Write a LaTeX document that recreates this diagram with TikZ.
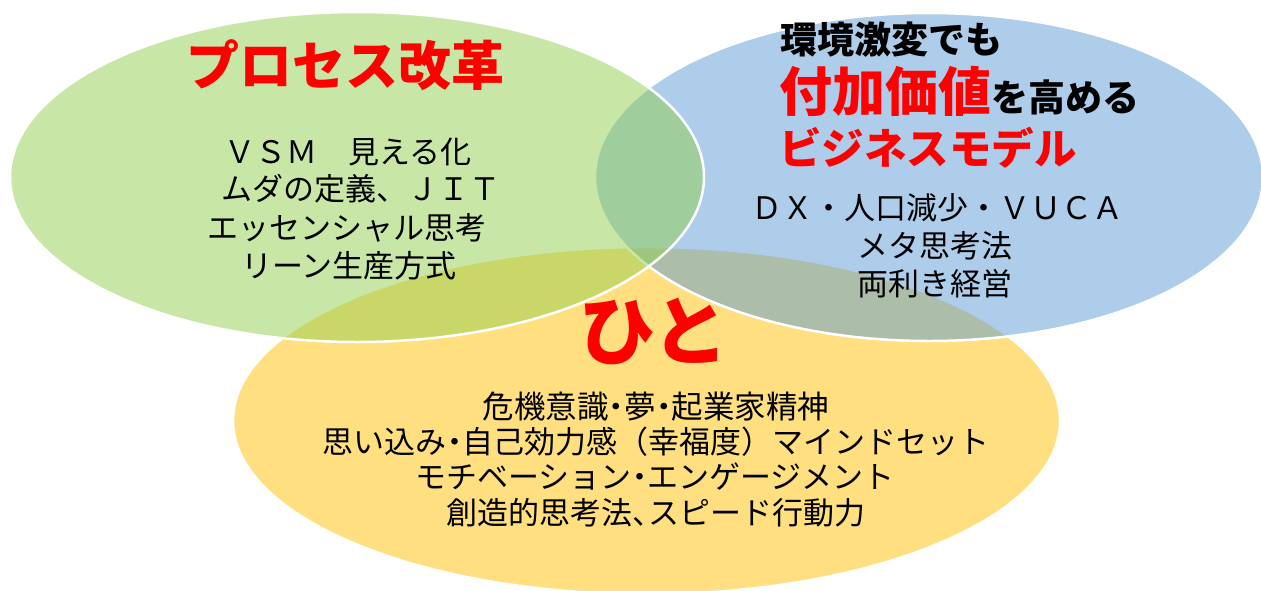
\documentclass[tikz,border=0pt]{standalone}
\usepackage{fontspec}
\setmainfont{Noto Sans CJK JP}
\newfontfamily\jphalt[RawFeature=+halt]{Noto Sans CJK JP}
\newfontfamily\jpfull{Noto Sans CJK JP}
\definecolor{cgreen}{HTML}{92D050}
\definecolor{cblue}{HTML}{5B9BD5}
\definecolor{cyellow}{HTML}{FFC000}
\definecolor{cred}{HTML}{FF0000}
\tikzset{
  setshape/.style={draw=white, line width=2.5pt, fill opacity=0.5},
  bodytext/.style={font=\fontsize{31}{37}\selectfont, inner sep=0pt, text=black},
  halftext/.style={font=\jphalt\fontsize{31}{37}\selectfont, inner sep=0pt, text=black},
  bigtitle/.style={font=\fontsize{53}{60}\selectfont\bfseries, text=cred, inner sep=0pt},
  headtext/.style={inner sep=0pt, anchor=west},
}
\begin{document}
\begin{tikzpicture}[x=1pt,y=-1pt]
\useasboundingbox (0,0) rectangle (1261,590);
\begin{scope}
  \clip (0,0) rectangle (1261,590);
  \path[setshape, fill=cyellow] (646.5,420.6) ellipse [x radius=413.5pt, y radius=173.6pt];
  \path[setshape, fill=cblue] (929,177) ellipse [x radius=334pt, y radius=164pt];
  \path[setshape, fill=cgreen] (357,177) ellipse [x radius=347pt, y radius=165pt];
\end{scope}

% green set
\node[bigtitle] (t1) at (345,65) {プロセス改革};
\node[bodytext] (g1) at (348,152) {ＶＳＭ　見える化};
\node[bodytext] (g2) at (361,189) {ムダの定義、ＪＩＴ};
\node[bodytext] (g3) at (347,228) {エッセンシャル思考};
\node[bodytext] (g4) at (349,266) {リーン生産方式};

% blue set
\node[headtext, font=\fontsize{37}{40}\selectfont\bfseries] (b1) at (780,40) {環境激変でも};
\node[headtext, anchor=base west, font=\bfseries] (b2) at (779,111)
  {\fontsize{53}{56}\selectfont\textcolor{cred}{付加価値}\fontsize{37}{40}\selectfont を高める};
\node[headtext, font=\fontsize{42.5}{46}\selectfont\bfseries, text=cred] (b3) at (779,148) {ビジネスモデル};
\node[bodytext] (b4) at (937,208) {ＤＸ・人口減少・ＶＵＣＡ};
\node[bodytext] (b5) at (935,246) {メタ思考法};
\node[bodytext] (b6) at (935,284) {両利き経営};

% yellow set
\node[bigtitle, font=\fontsize{76}{80}\selectfont\bfseries] (y0) at (654,331) {ひと};
\node[halftext, font=\jphalt\fontsize{31.5}{37}\selectfont] (y1) at (656,407) {危機意識・夢・起業家精神};
\node[halftext] (y2) at (656,442) {思い込み・自己効力感{\jpfull （}幸福度{\jpfull ）}マインドセット};
\node[halftext] (y3) at (655,477) {モチベーション・エンゲージメント};
\node[halftext] (y4) at (656,513) {創造的思考法、スピード行動力};
\end{tikzpicture}
\end{document}
